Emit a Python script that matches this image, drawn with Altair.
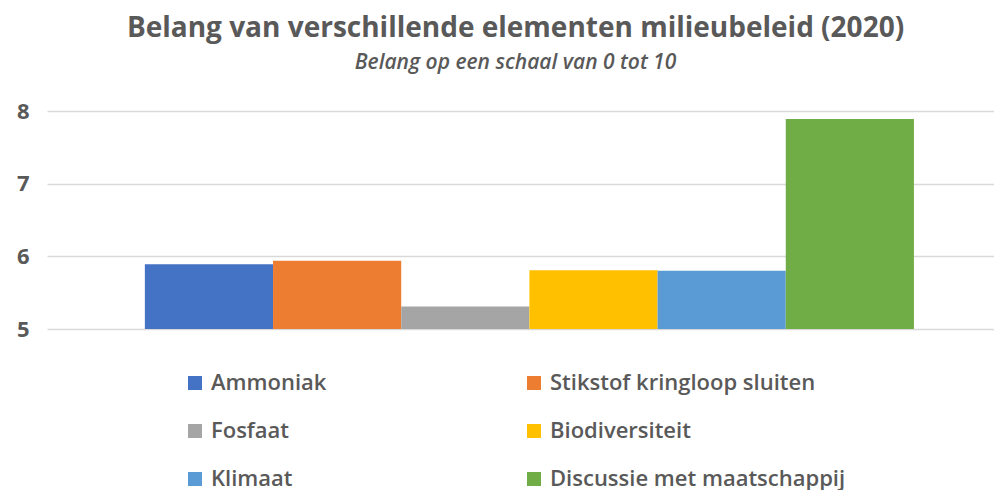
import altair as alt
import pandas as pd

series = ["Ammoniak", "Stikstof kringloop sluiten", "Fosfaat", "Biodiversiteit",
          "Klimaat", "Discussie met maatschappij"]
values = [5.89, 5.94, 5.31, 5.81, 5.80, 7.89]
colors = ["#4472C4", "#ED7D31", "#A5A5A5", "#FFC000", "#5B9BD5", "#70AD47"]
y_ticks = [5, 6, 7, 8]

df = pd.DataFrame({"serie": series, "waarde": values})

FONT = "Open Sans"
GRAY = "#595959"

chart = alt.Chart(df).mark_bar().encode(
    x=alt.X("serie:N", sort=series,
            scale=alt.Scale(paddingInner=0, paddingOuter=0.694, align=0.55),
            axis=None),
    y=alt.Y("waarde:Q",
            scale=alt.Scale(domain=[5, 8], zero=False, nice=False),
            axis=alt.Axis(values=y_ticks, format="d", domain=False, ticks=False,
                          labelPadding=18, labelFontSize=22, labelFont=FONT,
                          labelFontWeight="bold", labelColor=GRAY,
                          gridColor="#d9d9d9", gridWidth=1.5, title=None)),
    y2=alt.datum(5),
    color=alt.Color("serie:N", sort=series,
                    scale=alt.Scale(domain=series, range=colors),
                    legend=alt.Legend(orient="none", legendX=137, legendY=261,
                                      direction="horizontal",
                                      columns=2, title=None, symbolType="square",
                                      symbolSize=196, symbolStrokeWidth=0,
                                      symbolOpacity=1,
                                      labelFont=FONT, labelFontSize=22,
                                      labelFontWeight=600,
                                      labelColor=GRAY, labelOffset=5,
                                      rowPadding=26, columnPadding=196,
                                      labelLimit=400)),
).properties(
    width=947,
    height=218,
    title=alt.TitleParams(
        text="Belang van verschillende elementen milieubeleid (2020)",
        subtitle="Belang op een schaal van 0 tot 10",
        font=FONT, fontSize=28, fontWeight="bold", color=GRAY,
        subtitleFont=FONT, subtitleFontSize=21, subtitleFontStyle="italic",
        subtitleFontWeight=600,
        subtitleColor=GRAY, anchor="middle", offset=27, dx=-5,
        subtitlePadding=9),
    autosize=alt.AutoSizeParams(type="none"),
    padding={"left": 39, "top": 103, "right": 0, "bottom": 161},
).configure_view(stroke=None)

chart.save("out.html", embed_options={"renderer": "svg", "actions": False})
